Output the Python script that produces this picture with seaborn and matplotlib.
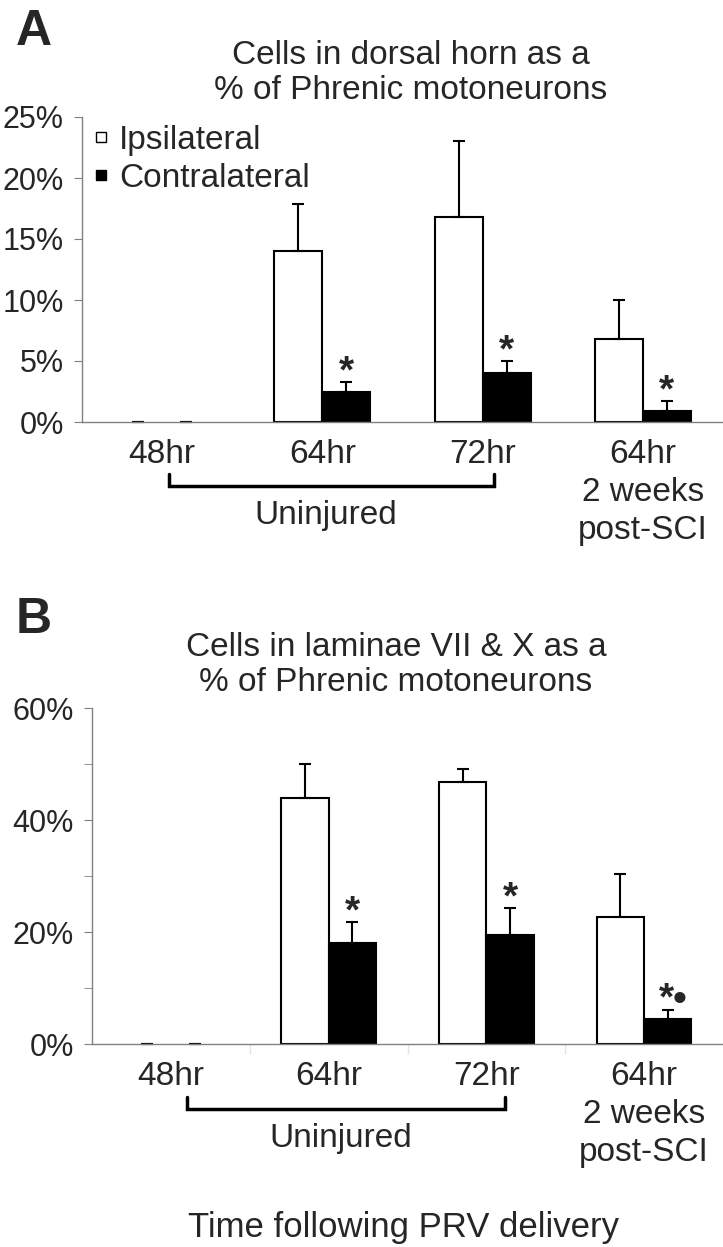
"""
PRV-labelled cells as a % of phrenic motoneurons - two panel bar chart
"""
import numpy as np
import pandas as pd
import matplotlib
matplotlib.use("Agg")
import matplotlib.pyplot as plt
import matplotlib.transforms as mtrans
from matplotlib.lines import Line2D
import seaborn as sns

sns.set_style("ticks")
plt.rcParams["font.family"] = ["Liberation Sans", "DejaVu Sans"]

groups = ["48hr", "64hr", "72hr", "64hr\n2 weeks\npost-SCI"]
sides = ["Ipsilateral", "Contralateral"]

# panel A - dorsal horn (% of phrenic motoneurons)
a_ipsi = [0, 14.0, 16.8, 6.8]
a_ipsi_sem = [0, 3.9, 6.2, 3.2]
a_contra = [0, 2.45, 4.0, 0.9]
a_contra_sem = [0, 0.85, 1.0, 0.8]
a_marks = ["", "*", "*", "*"]

# panel B - laminae VII & X
b_ipsi = [0, 44.0, 46.8, 22.7]
b_ipsi_sem = [0, 6.0, 2.3, 7.7]
b_contra = [0, 18.0, 19.5, 4.5]
b_contra_sem = [0, 3.8, 4.8, 1.6]
b_marks = ["", "*", "*", "*\u2022"]

FS = 24
GRAY = "#808080"


def long_df(ipsi, contra):
    return pd.DataFrame({
        "group": groups * 2,
        "side": [sides[0]] * len(groups) + [sides[1]] * len(groups),
        "value": list(ipsi) + list(contra),
    })


def draw_panel(ax, ipsi, contra, ipsi_sem, contra_sem, marks):
    sns.barplot(data=long_df(ipsi, contra), x="group", y="value", hue="side",
                order=groups, hue_order=sides,
                palette={"Ipsilateral": "white", "Contralateral": "black"},
                edgecolor="black", linewidth=1.5, width=0.6,
                errorbar=None, legend=False, ax=ax)
    for cont, sem in zip(ax.containers, [ipsi_sem, contra_sem]):
        xs, hs = [], []
        for bar in cont:
            xs.append(bar.get_x() + bar.get_width() / 2)
            hs.append(bar.get_height())
            if bar.get_height() == 0:
                bar.set_linewidth(0)
        ax.errorbar(xs, hs, yerr=[np.zeros(len(sem)), sem], fmt="none",
                    ecolor="black", elinewidth=1.5, capsize=4.5, capthick=1.5,
                    clip_on=False, zorder=1)
    # significance marks above the contralateral error bars
    for bar, s, m in zip(ax.containers[1], contra_sem, marks):
        if m:
            ax.annotate(m, (bar.get_x() + bar.get_width() / 2, bar.get_height() + s),
                        xytext=(4 if len(m) > 1 else 0, -6), textcoords="offset points",
                        ha="center", va="bottom", fontsize=28, fontweight="bold")
    ax.set_xlim(-0.5, len(groups) - 0.5)
    ax.set_xlabel("")
    ax.set_ylabel("")
    sns.despine(ax=ax)
    for sp in ["left", "bottom"]:
        ax.spines[sp].set_color(GRAY)
        ax.spines[sp].set_linewidth(1)
    ax.tick_params(axis="y", length=6, color=GRAY, pad=7, labelsize=22)
    ax.tick_params(axis="x", length=0, pad=12, labelsize=FS)
    ax.set_xticks(range(len(groups)))
    ax.set_xticklabels(groups, linespacing=1.3)


def bracket(ax, x0, x1, y, tick, label_x, label_y):
    tr = mtrans.blended_transform_factory(ax.transData, ax.transAxes)
    ax.plot([x0, x0, x1, x1], [y + tick, y, y, y + tick], color="black", lw=2.5,
            transform=tr, clip_on=False, solid_joinstyle="miter")
    ax.text(label_x, label_y, "Uninjured", transform=tr, ha="center", va="center",
            fontsize=FS)


fig = plt.figure(figsize=(7.23, 12.47), dpi=100)

# ---------------------------------------------------------------
# Panel A
# ---------------------------------------------------------------
axA = fig.add_axes([82 / 723, 1 - 422 / 1247, 641 / 723, 305 / 1247])
draw_panel(axA, a_ipsi, a_contra, a_ipsi_sem, a_contra_sem, a_marks)
axA.set_ylim(0, 25)
axA.set_yticks(np.arange(0, 26, 5))
axA.set_yticklabels([f"{v}%" for v in range(0, 26, 5)])
bracket(axA, 0.04, 2.07, -0.21, 0.04, 1.02, -0.305)
handles = [Line2D([], [], marker="s", ls="", mfc="white", mec="black", ms=6.5, mew=1),
           Line2D([], [], marker="s", ls="", mfc="black", mec="black", ms=6.5, mew=1)]
axA.legend(handles, sides, loc="upper left", bbox_to_anchor=(0.016, 0.975),
           frameon=False, fontsize=FS, handlelength=0.5, handletextpad=0.3,
           borderpad=0, borderaxespad=0, labelspacing=0.22)
fig.text(34 / 723, 1 - 32 / 1247, "A", fontsize=36, fontweight="bold",
         ha="center", va="center")
fig.text(411 / 723, 1 - 73 / 1247, "Cells in dorsal horn as a\n% of Phrenic motoneurons",
         fontsize=FS, ha="center", va="center", linespacing=1.2)

# ---------------------------------------------------------------
# Panel B
# ---------------------------------------------------------------
axB = fig.add_axes([92 / 723, 1 - 1044 / 1247, 631 / 723, 336 / 1247])
draw_panel(axB, b_ipsi, b_contra, b_ipsi_sem, b_contra_sem, b_marks)
axB.set_ylim(0, 60)
axB.set_yticks(np.arange(0, 61, 20))
axB.set_yticks(np.arange(10, 60, 20), minor=True)
axB.set_yticklabels([f"{v}%" for v in range(0, 61, 20)])
axB.tick_params(axis="y", which="minor", length=6, color=GRAY)
axB.set_xticks([0.5, 1.5, 2.5], minor=True)
axB.tick_params(axis="x", which="minor", length=7, color="#e4e4e4", width=1)
bracket(axB, 0.1, 2.12, -0.193, 0.036, 1.08, -0.28)
fig.text(34 / 723, 1 - 620 / 1247, "B", fontsize=36, fontweight="bold",
         ha="center", va="center")
fig.text(396 / 723, 1 - 665 / 1247, "Cells in laminae VII & X as a\n% of Phrenic motoneurons",
         fontsize=FS, ha="center", va="center", linespacing=1.2)

fig.text(403 / 723, 1 - 1227 / 1247, "Time following PRV delivery", fontsize=25,
         ha="center", va="center")

fig.savefig("out.png", dpi=100)
